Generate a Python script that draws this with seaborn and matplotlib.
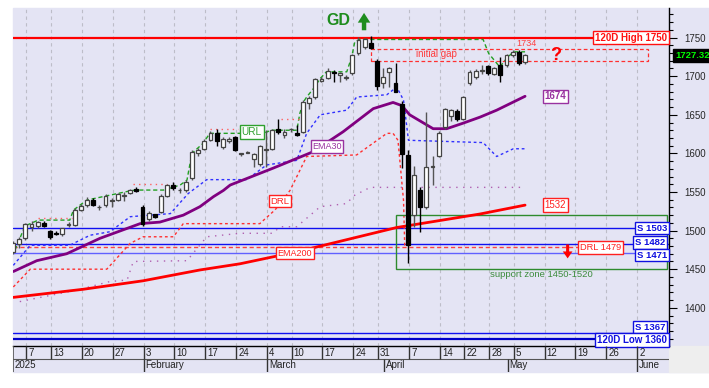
import numpy as np
import pandas as pd
import matplotlib
matplotlib.use("Agg")
import matplotlib.pyplot as plt
import matplotlib.transforms as mtransforms
from matplotlib.patches import Rectangle
import seaborn as sns

sns.set_theme(style="white")
plt.rcParams['font.family'] = ['Liberation Sans', 'DejaVu Sans']

# ---- candles (index 1 = first visible session, early January 2025) ----
opens = [1472, 1483, 1490, 1505, 1506, 1510, 1500, 1497, 1495, 1507,
         1507, 1527, 1533, 1540, 1530, 1533, 1538, 1540, 1545, 1549,
         1554, 1530, 1515, 1521, 1524, 1545, 1559, 1552, 1552, 1568,
         1600, 1606, 1618, 1626, 1608, 1616, 1621, 1599, 1601, 1593,
         1586, 1605, 1606, 1632, 1624, 1631, 1626, 1628, 1665, 1673,
         1694, 1698, 1706, 1701, 1698, 1704, 1730, 1738, 1743, 1720,
         1691, 1706, 1691, 1664, 1598, 1520, 1553, 1530, 1583, 1597,
         1634, 1648, 1655, 1645, 1691, 1699, 1707, 1713, 1703, 1714,
         1714, 1727, 1732, 1718]
highs = [1487, 1492, 1510, 1512, 1513, 1513, 1501, 1499, 1504, 1511,
         1529, 1534, 1543, 1542, 1533, 1547, 1542, 1549, 1550, 1554,
         1557, 1533, 1525, 1522, 1547, 1561, 1563, 1555, 1565, 1604,
         1607, 1619, 1629, 1631, 1621, 1621, 1622, 1601, 1603, 1601,
         1611, 1630, 1632, 1645, 1631, 1633, 1637, 1669, 1674, 1698,
         1699, 1711, 1708, 1706, 1701, 1729, 1751, 1750, 1752, 1722,
         1710, 1712, 1717, 1668, 1605, 1584, 1556, 1654, 1596, 1629,
         1659, 1658, 1657, 1675, 1708, 1709, 1714, 1715, 1712, 1725,
         1729, 1734, 1734, 1729]
lows = [1470, 1477, 1488, 1500, 1504, 1505, 1489, 1494, 1493, 1505,
        1506, 1525, 1531, 1532, 1527, 1531, 1530, 1538, 1538, 1547,
        1550, 1506, 1513, 1516, 1523, 1544, 1553, 1549, 1550, 1566,
        1597, 1604, 1616, 1610, 1606, 1614, 1603, 1597, 1600, 1583,
        1584, 1583, 1604, 1625, 1620, 1628, 1622, 1626, 1658, 1670,
        1692, 1696, 1693, 1692, 1695, 1702, 1728, 1735, 1735, 1682,
        1685, 1686, 1679, 1581, 1458, 1505, 1498, 1528, 1559, 1595,
        1632, 1642, 1642, 1643, 1689, 1697, 1703, 1702, 1701, 1693,
        1712, 1725, 1714, 1716]
closes = [1484, 1489, 1508, 1509, 1511, 1506, 1492, 1496, 1503, 1509,
          1527, 1532, 1540, 1533, 1531, 1545, 1539, 1547, 1546, 1552,
          1551, 1509, 1523, 1518, 1545, 1559, 1555, 1553, 1563, 1602,
          1604, 1616, 1626, 1616, 1619, 1619, 1605, 1600, 1602, 1599,
          1609, 1606, 1630, 1628, 1628, 1632, 1624, 1667, 1672, 1696,
          1696, 1707, 1704, 1704, 1698.5, 1727, 1747, 1748, 1737, 1687,
          1699, 1710, 1680, 1599, 1481, 1572, 1530, 1583, 1584, 1627,
          1657, 1656, 1644, 1673, 1706, 1707, 1708, 1704, 1710, 1702,
          1727, 1732, 1717, 1727.32]

# ---- indicator lines (session index, value) ----
ema30_x = [1.05, 4.85, 9.7, 15.1, 21.6, 24.8, 28.6, 31.3, 33.5, 35.1, 36.2, 43.2,
           49.6, 54.5, 59.4, 62.6, 64.0, 65.3, 69.1, 71.3, 73.9, 76.7, 79.4, 84.0]
ema30_y = [1447, 1461, 1470, 1490, 1509, 1511, 1520, 1531, 1544, 1552, 1559, 1581,
           1602, 1628, 1658, 1666, 1662, 1650, 1632, 1632, 1639, 1647, 1656, 1674]

ema200_x = [1.05, 12.4, 22.1, 31.3, 37.8, 47.0, 63.2, 76.7, 84.0]
ema200_y = [1413.5, 1424, 1435, 1449, 1457, 1472.5, 1504, 1521.5, 1533]

blue_x = [1.05, 3.8, 10.2, 13.5, 16.7, 20.0, 23.2, 26.5, 29.4, 32.4, 38.9, 42.1,
          47.0, 48.6, 50.8, 55.1, 56.7, 61.6, 63.2, 64.3, 65.1, 77.2, 79.4, 82.1, 84.0]
blue_y = [1455, 1481, 1481, 1494, 1498.5, 1518, 1520, 1522, 1548, 1566, 1566, 1585,
          1591, 1626, 1650, 1656, 1673, 1676, 1686, 1669, 1617, 1614, 1596, 1606, 1606]

drl_x = [1.05, 3.8, 16.2, 20.0, 22.1, 27.0, 28.6, 41.0, 43.5, 45.9, 48.6, 56.7,
         61.6, 62.6, 63.4, 64.3, 64.5]
drl_y = [1427, 1450, 1450, 1483.5, 1492, 1492, 1509, 1509, 1527, 1552, 1596, 1598,
         1626, 1626, 1617, 1539, 1479]

url_x = [1.33, 2.95, 5.1, 10.2, 10.8, 12.95, 19.7, 20.8, 25.4, 28.1, 29.2, 30.0,
         31.8, 32.9, 41.5, 42.9, 47.0, 47.5, 48.1, 48.6, 49.7, 50.8, 51.8, 55.1,
         55.9, 56.4, 57.2, 77.2, 78.1, 79.9, 81.0, 82.1, 84.0]
url_y = [1475, 1506, 1513.6, 1513.6, 1526.6, 1539.5, 1551, 1552.5, 1552.5, 1559,
         1565.5, 1600, 1613, 1626, 1626, 1630, 1630, 1652, 1667, 1673, 1684, 1697,
         1705.7, 1705.7, 1725, 1744.6, 1747.6, 1747.6, 1729.5, 1712, 1723, 1731.6, 1731.6]

low_x = [2.1, 11.9, 16.7, 19.5, 20.5, 29.2, 32.4, 37.8, 43.1, 44.3, 47.0, 48.6,
         50.8, 55.1, 56.2, 58.9, 84.0]
low_y = [1408, 1424, 1434, 1436, 1460, 1461, 1492, 1496.5, 1496.5, 1505, 1505, 1516,
         1531, 1535, 1545, 1556, 1556]

# short resistance steps above the URL line
res_start = [5.0, 20.5, 33.0, 44.5]
res_end = [10.5, 26.0, 37.5, 47.5]
res_level = [1516, 1560, 1632, 1645]

support_levels = [1503, 1482, 1471, 1367]
high_120d = 1750
low_120d = 1360
drl_level = 1479
last_close = 1727.32

# axis labels
day_ticks = [3, 7, 12, 17, 22, 27, 32, 37, 42, 46, 51, 56, 60, 65, 70, 74, 78, 82,
             87, 92, 97, 102]
day_labels = ['7', '13', '20', '27', '3', '10', '17', '24', '4', '10', '17', '24',
              '31', '7', '14', '22', '28', '5', '12', '19', '26', '2']
month_ticks = [22, 42, 61, 81, 102]
month_labels = ['February', 'March', 'April', 'May', 'June']

W, H = 709, 388
BG = '#E4E4F4'
TICK_OFF = 0.16
XL = (1.0, 107.33)
YL = (1350.5, 1789)


def fx(px):
    return px / W


def fy(py):
    return 1 - py / H


fig = plt.figure(figsize=(W / 100, H / 100), dpi=100)
fig.patch.set_facecolor('white')
fig.add_artist(Rectangle((fx(13), fy(372)), fx(709) - fx(13), fy(7.5) - fy(372),
                         transform=fig.transFigure, color=BG, zorder=0))
fig.add_artist(Rectangle((fx(669), fy(372)), fx(709) - fx(669), fy(346) - fy(372),
                         transform=fig.transFigure, color='#EEEEEE', zorder=0))

ax = fig.add_axes([fx(13), fy(346), fx(669) - fx(13), fy(7.5) - fy(346)])
ax.set_facecolor(BG)
ax.set_xlim(*XL)
ax.set_ylim(*YL)

# vertical grid
for t in day_ticks:
    ax.axvline(t + TICK_OFF, color='#BDBDC8', lw=0.8, ls=(0, (3, 3)), zorder=0.5)

# horizontal levels
ax.axhline(high_120d, color='#FF0000', lw=1.6, zorder=1.5)
for lvl, c in zip(support_levels, ['#1010F0', '#1010F0', '#6060FF', '#1010F0']):
    ax.axhline(lvl, color=c, lw=1.0, zorder=1.2)
ax.axhline(low_120d, color='#0000C8', lw=1.6, zorder=1.2)
ax.hlines(drl_level, XL[0], 92.9, color='#FF4040', lw=1.0, ls=(0, (3, 2)), zorder=1.3)

# bands
bands = pd.DataFrame({'x': blue_x, 'y': blue_y})
sns.lineplot(data=bands, x='x', y='y', ax=ax, color='#3030FF', lw=1.0,
             sort=False, estimator=None, zorder=2)
ax.lines[-1].set_dashes([2, 2])
sns.lineplot(x=drl_x, y=drl_y, ax=ax, color='#FF3030', lw=1.0,
             sort=False, estimator=None, zorder=2)
ax.lines[-1].set_dashes([2, 2])
sns.lineplot(x=url_x, y=url_y, ax=ax, color='#22A022', lw=1.0,
             sort=False, estimator=None, zorder=2)
ax.lines[-1].set_dashes([3, 2])
sns.lineplot(x=low_x, y=low_y, ax=ax, color='#B060B0', lw=1.0,
             sort=False, estimator=None, zorder=2)
ax.lines[-1].set_dashes([1, 4])
for s, e, lv in zip(res_start, res_end, res_level):
    ax.hlines(lv, s, e, color='#FF6060', lw=1.0, linestyles=(0, (1, 3)), zorder=2)

# moving averages
sns.lineplot(x=ema200_x, y=ema200_y, ax=ax, color='#FF0000', lw=2.0,
             sort=False, estimator=None, zorder=2.5)
sns.lineplot(x=ema30_x, y=ema30_y, ax=ax, color='#800080', lw=2.0,
             sort=False, estimator=None, zorder=2.5)

# candles
idx = np.arange(1, len(opens) + 1)
o = np.array(opens)
c = np.array(closes)
up = c >= o
ax.vlines(idx[up], np.array(lows)[up], np.array(highs)[up], color='#555555', lw=1.0, zorder=3)
ax.vlines(idx[~up], np.array(lows)[~up], np.array(highs)[~up], color='black', lw=1.0, zorder=3)
body_lo = np.minimum(o, c)
body_h = np.maximum(np.abs(c - o), 1.2)
ax.bar(idx[up], body_h[up], bottom=body_lo[up], width=0.62, color='white',
       edgecolor='#444444', linewidth=0.9, zorder=3.5)
ax.bar(idx[~up], body_h[~up], bottom=body_lo[~up], width=0.62, color='black',
       edgecolor='black', linewidth=0.9, zorder=3.5)

# zones
ax.add_patch(Rectangle((63.1, 1450), 106.96 - 63.1, 70, fill=False, ec='#2E8B2E',
                       lw=1.0, zorder=2.2))
ax.add_patch(Rectangle((59.0, 1720), 103.9 - 59.0, 14.7, fill=False, ec='#FF3030',
                       lw=0.9, ls=(0, (3, 2)), zorder=2.2))

# labels
def boxed(x, y, s, col, size=6.6, weight='normal', trans=None, ha='center', lw=1.0):
    ax.text(x, y, s, color=col, fontsize=size, fontweight=weight, ha=ha, va='center',
            transform=trans if trans is not None else ax.transData, zorder=6,
            bbox=dict(boxstyle='square,pad=0.18', fc='white', ec=col, lw=lw))

right = mtransforms.blended_transform_factory(ax.transAxes, ax.transData)
boxed(0.997, 1750, '120D High 1750', '#FF1010', 7, 'bold', right, 'right')
boxed(0.997, 1503, 'S 1503', '#1010E0', 6.8, 'bold', right, 'right')
boxed(0.994, 1484.7, 'S 1482', '#1010E0', 6.8, 'bold', right, 'right')
boxed(0.997, 1468, 'S 1471', '#1010E0', 6.8, 'bold', right, 'right')
boxed(0.994, 1375, 'S 1367', '#1010E0', 6.8, 'bold', right, 'right')
boxed(0.997, 1358, '120D Low 1360', '#1010E0', 7, 'bold', right, 'right')
boxed(92.9, 1478, 'DRL 1479', '#FF2020', 6.7, 'normal', None, 'left')
boxed(88.9, 1674, '1674', '#9932A0', 7, 'bold')
boxed(88.9, 1533, '1532', '#FF2020', 7)
boxed(51.9, 1609, 'EMA30', '#9932A0', 6.5)
boxed(39.7, 1627.6, 'URL', '#2EA02E', 7.2)
boxed(44.3, 1538, 'DRL', '#FF2020', 6.8)
boxed(46.7, 1470.5, 'EMA200', '#FF2020', 6.5)

ax.text(78.3, 1443, 'support zone 1450-1520', color='#3C8C3C', fontsize=6.8,
        ha='left', va='center', zorder=6)
ax.text(69.6, 1728.6, 'initial gap', color='#FF3C3C', fontsize=7, ha='center',
        va='center', zorder=6)
ax.text(84.3, 1743, '1734', color='#FF4040', fontsize=6.6, ha='center', va='center', zorder=6)
ax.text(88.9, 1727, '?', color='#FF0000', fontsize=13, fontweight='bold', ha='center',
        va='center', zorder=6)
ax.text(53.7, 1771.6, 'GD', color='#1E8C1E', fontsize=11.5, fontweight='bold',
        ha='center', va='center', zorder=6)
ax.annotate('', xy=(57.9, 1782), xytext=(57.9, 1759.5),
            arrowprops=dict(width=3.2, headwidth=9, headlength=7, color='#1E8C1E', lw=0),
            zorder=6)
ax.annotate('', xy=(90.9, 1464), xytext=(90.9, 1482),
            arrowprops=dict(width=2.2, headwidth=7, headlength=5, color='#FF0000', lw=0),
            zorder=6)

# price tag
ax.text(1.009, last_close, f'{last_close:.2f}', transform=right, color='#00FF00',
        fontsize=6.8, fontweight='bold', ha='left', va='center', clip_on=False, zorder=7,
        bbox=dict(boxstyle='square,pad=0.2', fc='black', ec='black'))

# y axis on the right
ax.yaxis.tick_right()
ax.set_yticks(np.arange(1400, 1751, 50))
ax.set_yticks(np.arange(1360, 1790, 10), minor=True)
ax.tick_params(axis='y', which='major', direction='out', length=5.8, width=0.8,
               color='black', labelsize=7, pad=5.5, right=True, left=False)
ax.tick_params(axis='y', which='minor', direction='out', length=2.9, width=0.8,
               color='black', right=True, left=False)
ax.set_xticks([])
ax.set_xlabel('')
ax.set_ylabel('')
for side in ['top', 'left']:
    ax.spines[side].set_visible(False)
for side in ['right', 'bottom']:
    ax.spines[side].set_visible(True)
    ax.spines[side].set_color('black')
    ax.spines[side].set_linewidth(1.0)

# date axis
axb = fig.add_axes([fx(13), fy(372), fx(669) - fx(13), fy(346) - fy(372)])
axb.set_facecolor(BG)
axb.set_xlim(*XL)
axb.set_ylim(0, 2)
axb.axis('off')
axb.axhline(1.0, color='#555555', lw=0.8)
axb.axvline(XL[0] + 0.05, color='#555555', lw=1.2)
for t, lab in zip(day_ticks, day_labels):
    axb.vlines(t + TICK_OFF, 1.0, 2.0, color='#333333', lw=1.0)
    axb.text(t + TICK_OFF + 0.35, 1.5, lab, fontsize=7, ha='left', va='center', color='#222222')
axb.text(XL[0] + 0.3, 0.5, '2025', fontsize=7, ha='left', va='center', color='#222222')
for t, lab in zip(month_ticks, month_labels):
    axb.vlines(t + TICK_OFF, 0.0, 1.0, color='#333333', lw=1.0)
    axb.text(t + TICK_OFF + 0.3, 0.5, lab, fontsize=7, ha='left', va='center', color='#222222')

fig.savefig('out.png', dpi=100, facecolor='white')
